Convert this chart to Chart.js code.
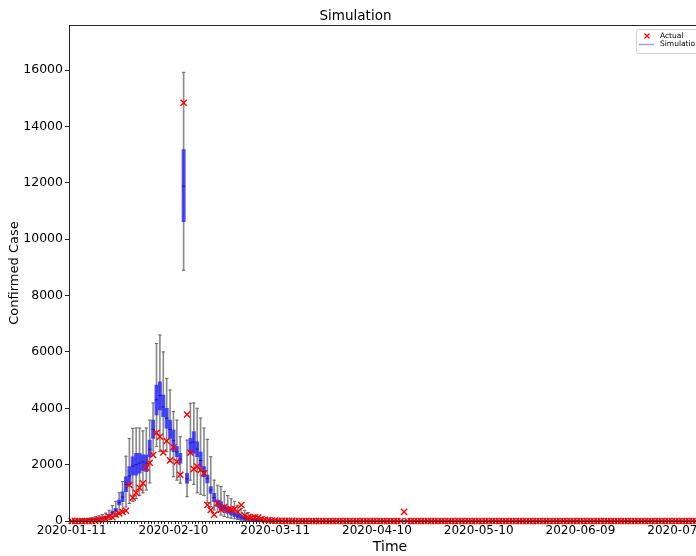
<!DOCTYPE html>
<html>
<head>
<meta charset="utf-8">
<script src="https://cdn.jsdelivr.net/npm/chart.js@4.4.1/dist/chart.umd.min.js"></script>
<style>
  html, body { margin: 0; padding: 0; background: #fff; overflow: hidden; width: 696px; height: 556px; }
  canvas { display: block; }
</style>
</head>
<body>
<canvas id="c" width="720" height="556"></canvas>
<script>
// Daily confirmed cases (reported), one value per day starting 2020-01-11
const actual = [
  0,0,0,0,0,0,4,17,40,70,
  70,150,130,220,270,320,365,1277,827,1004,
  1181,1337,1891,2068,2340,3133,2987,2430,2840,2150,
  2620,2100,1640,14840,3780,2420,1843,1933,1807,1693,
  568,390,220,630,398,499,401,409,423,318,
  568,196,114,115,134,126,74,41,36,17,
  13,8,5,4,4,4,1,1,0,0,
  0,0,0,0,0,0,0,0,0,0,
  0,0,0,0,0,0,0,0,0,0,
  0,0,0,0,0,0,0,0,325,0,
  0,0,0,0,0,0,0,0,0,0,
  0,0,0,0,0,0,0,0,0,0,
  0,0,0,0,0,0,0,0,0,0,
  0,0,0,0,0,0,0,0,0,0,
  0,0,0,0,0,0,0,0,0,0,
  0,0,0,0,0,0,0,0,0,0,
  0,0,0,0,0,0,0,0,0,0,
  0,0,0,0,0,0,0,0,0,0,
  0,0,0,0,0,0,0,0,0
];

// Simulated distribution per day: whisker low, first quartile, median, third quartile, whisker high
const simLow = [
  0,0,0,0,5,10,10,15,20,30,
  40,60,100,150,250,350,500,620,700,800,
  900,1000,1100,1350,2340,2640,2460,2460,2460,2100,
  1570,1450,1340,8900,860,1450,1300,1000,950,900,
  650,510,390,300,210,160,120,100,80,50,
  30,20,15,10,5,3,2,1,0,0,
  0,0,0,0,0,0,0,0,0,0,
  0,0,0,0,0,0,0,0,0,0,
  0,0,0,0,0,0,0,0,0,0,
  0,0,0,0,0,0,0,0,0,0,
  0,0,0,0,0,0,0,0,0,0,
  0,0,0,0,0,0,0,0,0,0,
  0,0,0,0,0,0,0,0,0,0,
  0,0,0,0,0,0,0,0,0,0,
  0,0,0,0,0,0,0,0,0,0,
  0,0,0,0,0,0,0,0,0,0,
  0,0,0,0,0,0,0,0,0,0,
  0,0,0,0,0,0,0,0,0,0,
  0,0,0,0,0,0,0,0,0
];
const simQ1 = [
  0,5,10,15,20,25,35,45,50,70,
  90,150,240,330,570,690,1040,1280,1630,1630,
  1700,1800,1750,2280,2930,3760,3940,3700,3290,2930,
  2460,2280,2050,10620,1340,2400,2400,2280,1900,1570,
  1350,980,690,510,390,355,273,213,153,95,
  60,45,35,25,18,12,8,5,3,2,
  1,1,0,0,0,0,0,0,0,0,
  0,0,0,0,0,0,0,0,0,0,
  0,0,0,0,0,0,0,0,0,0,
  0,0,0,0,0,0,0,0,0,0,
  0,0,0,0,0,0,0,0,0,0,
  0,0,0,0,0,0,0,0,0,0,
  0,0,0,0,0,0,0,0,0,0,
  0,0,0,0,0,0,0,0,0,0,
  0,0,0,0,0,0,0,0,0,0,
  0,0,0,0,0,0,0,0,0,0,
  0,0,0,0,0,0,0,0,0,0,
  0,0,0,0,0,0,0,0,0,0,
  0,0,0,0,0,0,0,0,0
];
const simMed = [
  5,10,15,20,30,40,50,65,75,100,
  120,190,290,390,650,850,1300,1600,1950,2000,
  2050,2100,2050,2550,3250,4300,4450,4050,3650,3250,
  2850,2450,2200,11880,1500,2770,2800,2550,2150,1750,
  1500,1100,830,620,530,460,390,330,240,180,
  130,100,75,55,40,30,20,14,10,7,
  5,3,2,1,1,0,0,0,0,0,
  0,0,0,0,0,0,0,0,0,0,
  0,0,0,0,0,0,0,0,0,0,
  0,0,0,0,0,0,0,0,0,0,
  0,0,0,0,0,0,0,0,0,0,
  0,0,0,0,0,0,0,0,0,0,
  0,0,0,0,0,0,0,0,0,0,
  0,0,0,0,0,0,0,0,0,0,
  0,0,0,0,0,0,0,0,0,0,
  0,0,0,0,0,0,0,0,0,0,
  0,0,0,0,0,0,0,0,0,0,
  0,0,0,0,0,0,0,0,0,0,
  0,0,0,0,0,0,0,0,0
];
const simQ3 = [
  10,15,25,30,40,55,70,90,100,130,
  160,230,350,450,745,1040,1570,1930,2280,2400,
  2400,2350,2340,2870,3580,4820,4940,4470,4000,3580,
  3230,2640,2400,13180,1690,2930,3170,2810,2450,1930,
  1630,1220,980,745,685,567,507,450,330,273,
  213,170,130,100,75,55,40,30,22,16,
  12,8,6,4,3,2,1,1,0,0,
  0,0,0,0,0,0,0,0,0,0,
  0,0,0,0,0,0,0,0,0,0,
  0,0,0,0,0,0,0,0,0,0,
  0,0,0,0,0,0,0,0,0,0,
  0,0,0,0,0,0,0,0,0,0,
  0,0,0,0,0,0,0,0,0,0,
  0,0,0,0,0,0,0,0,0,0,
  0,0,0,0,0,0,0,0,0,0,
  0,0,0,0,0,0,0,0,0,0,
  0,0,0,0,0,0,0,0,0,0,
  0,0,0,0,0,0,0,0,0,0,
  0,0,0,0,0,0,0,0,0
];
const simHigh = [
  20,30,40,50,70,90,120,150,180,230,
  280,380,550,700,1000,1400,2300,2930,3290,3300,
  3300,3200,3300,3580,4190,6300,6600,6000,5060,4650,
  3880,3580,2990,15920,2870,4180,4190,4000,3650,3300,
  2900,2280,1450,1270,1220,1050,900,790,700,560,
  450,380,300,240,190,150,110,85,65,50,
  38,28,20,15,10,7,5,3,2,1,
  0,0,0,0,0,0,0,0,0,0,
  0,0,0,0,0,0,0,0,0,0,
  0,0,0,0,0,0,0,0,0,0,
  0,0,0,0,0,0,0,0,0,0,
  0,0,0,0,0,0,0,0,0,0,
  0,0,0,0,0,0,0,0,0,0,
  0,0,0,0,0,0,0,0,0,0,
  0,0,0,0,0,0,0,0,0,0,
  0,0,0,0,0,0,0,0,0,0,
  0,0,0,0,0,0,0,0,0,0,
  0,0,0,0,0,0,0,0,0,0,
  0,0,0,0,0,0,0,0,0
];

// Axis ticks
const tickDays = [0, 30, 60, 90, 120, 150, 180];
const tickLabels = ['2020-01-11', '2020-02-10', '2020-03-11', '2020-04-10', '2020-05-10', '2020-06-09', '2020-07-09'];
const yTicks = [0, 2000, 4000, 6000, 8000, 10000, 12000, 14000, 16000];
const legendLabels = ['Actual', 'Simulation'];

const days = actual.map((_, i) => i);
const FONT = 'DejaVu Sans';

// Plot frame plus an inset legend in the upper right corner
const framePlugin = {
  id: 'frame',
  afterDraw(chart) {
    const { ctx, chartArea: a } = chart;
    ctx.save();
    ctx.strokeStyle = '#222';
    ctx.lineWidth = 1;
    const l = Math.round(a.left) + 0.5, t = Math.round(a.top) + 0.5, b = Math.round(a.bottom) + 0.5;
    ctx.strokeRect(l, t, a.right - l, b - t);

    // legend box
    const lx = a.right - 75, ly = Math.round(a.top) + 4, lw = 78, lh = 24;
    ctx.fillStyle = 'rgba(255,255,255,0.85)';
    ctx.strokeStyle = '#d0d0d0';
    ctx.beginPath();
    ctx.roundRect(Math.round(lx) + 0.5, ly + 0.5, lw, lh, 2);
    ctx.fill();
    ctx.stroke();

    // entry 1: red x
    const y1 = ly + 7, y2 = ly + 15.5;
    ctx.strokeStyle = '#ff0000';
    ctx.lineWidth = 1.2;
    ctx.beginPath();
    ctx.moveTo(lx + 8.5, y1 - 2.5); ctx.lineTo(lx + 13.5, y1 + 2.5);
    ctx.moveTo(lx + 13.5, y1 - 2.5); ctx.lineTo(lx + 8.5, y1 + 2.5);
    ctx.stroke();
    // entry 2: light blue line
    ctx.strokeStyle = 'rgba(90,90,255,0.6)';
    ctx.lineWidth = 1.5;
    ctx.beginPath();
    ctx.moveTo(lx + 3, y2); ctx.lineTo(lx + 18, y2);
    ctx.stroke();

    ctx.fillStyle = '#000';
    ctx.font = '7.5px "' + FONT + '"';
    ctx.textBaseline = 'middle';
    ctx.fillText(legendLabels[0], lx + 24, y1);
    ctx.fillText(legendLabels[1], lx + 24, y2);
    ctx.restore();
  }
};

const whiskerData = days.map(i => ({ x: i, y: [simLow[i], simHigh[i]] }));
const boxData = days.map(i => ({ x: i, y: [simQ1[i], simQ3[i]] }));
const capData = days.flatMap(i => [{ x: i, y: simLow[i] }, { x: i, y: simHigh[i] }]);
const medData = days.map(i => ({ x: i, y: simMed[i] }));
const actualData = days.map(i => ({ x: i, y: actual[i] }));

new Chart(document.getElementById('c'), {
  type: 'bar',
  data: {
    datasets: [
      {
        type: 'scatter', label: 'Actual', data: actualData, order: 0,
        pointStyle: 'crossRot', radius: 4.3, borderColor: '#ff0000', backgroundColor: '#ff0000',
        borderWidth: 1.4, clip: false
      },
      {
        type: 'scatter', label: 'median', data: medData, order: 1,
        pointStyle: 'line', radius: 1.7, borderColor: '#1a1a9a', borderWidth: 1, clip: false
      },
      {
        type: 'bar', label: 'Simulation', data: boxData, order: 2, grouped: false,
        barThickness: 3.3, backgroundColor: 'rgba(40,40,255,0.8)', borderWidth: 0
      },
      {
        type: 'scatter', label: 'caps', data: capData, order: 3,
        pointStyle: 'line', radius: 1.7, borderColor: '#666', borderWidth: 1, clip: false
      },
      {
        type: 'bar', label: 'whiskers', data: whiskerData, order: 4, grouped: false,
        barThickness: 1, backgroundColor: 'rgba(120,120,120,0.85)', borderWidth: 0
      }
    ]
  },
  options: {
    responsive: false,
    animation: false,
    devicePixelRatio: 1,
    layout: { padding: { left: 0, right: 9, top: 0, bottom: 0 } },
    plugins: {
      legend: { display: false },
      tooltip: { enabled: false },
      title: {
        display: true, text: 'Simulation', color: '#000',
        font: { family: FONT, size: 13.5, weight: 'normal' },
        padding: { top: 8.8, bottom: 0 }
      }
    },
    scales: {
      x: {
        type: 'linear', min: -0.3, max: 188,
        afterFit(s) { s.height = 35; },
        afterBuildTicks(s) { s.ticks = days.map(v => ({ value: v })); },
        grid: { display: true, drawOnChartArea: false, drawTicks: true, tickLength: 3, tickColor: '#222' },
        border: { display: false },
        ticks: {
          autoSkip: false, maxRotation: 0, padding: 0, color: '#000',
          font: { family: FONT, size: 12 },
          callback(v) { const k = tickDays.indexOf(v); return k >= 0 ? tickLabels[k] : ''; }
        },
        title: { display: true, text: 'Time', color: '#000', font: { family: FONT, size: 14 }, padding: { top: 0, bottom: 0 } }
      },
      y: {
        type: 'linear', min: 0, max: 17600,
        afterFit(s) { s.width = 69; },
        afterBuildTicks(s) { s.ticks = yTicks.map(v => ({ value: v })); },
        grid: { display: true, drawOnChartArea: false, drawTicks: true, tickLength: 4, tickColor: '#222' },
        border: { display: false },
        ticks: { padding: 2, color: '#000', font: { family: FONT, size: 12.5 }, callback(v) { return String(v); } },
        title: { display: true, text: 'Confirmed Case', color: '#000', font: { family: FONT, size: 13 }, padding: { top: 7, bottom: 0 } }
      }
    }
  },
  plugins: [framePlugin]
});
</script>
</body>
</html>
